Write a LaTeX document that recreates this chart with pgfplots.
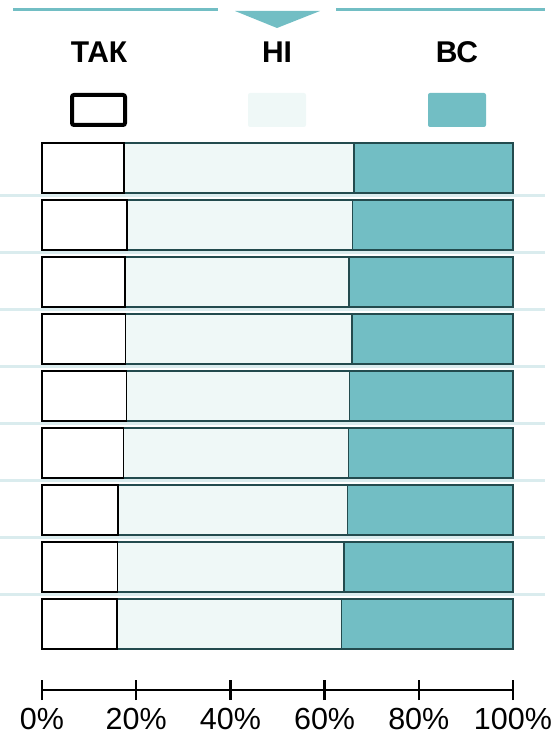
\documentclass[border=0pt]{standalone}
\usepackage{pgfplots}
\pgfplotsset{compat=1.18}
\usepackage{pgfplotstable}
\usepackage{fontspec}
\setmainfont{Liberation Sans}
\definecolor{vs}{RGB}{114,190,196}
\definecolor{ni}{RGB}{239,248,247}
\definecolor{edge}{RGB}{35,75,78}
\definecolor{sep}{RGB}{218,236,238}

\pgfplotstableread{
y tak ni vs
9 17.4 48.8 33.8
8 18.0 47.9 34.1
7 17.6 47.6 34.8
6 17.7 48.1 34.2
5 17.9 47.4 34.7
4 17.3 47.8 34.9
3 16.1 48.8 35.1
2 16.0 48.1 35.9
1 15.9 47.7 36.4
}\data

\begin{document}
\begin{tikzpicture}[x=1pt,y=1pt]
\useasboundingbox (0,0) rectangle (560,740);
\begin{axis}[at={(42pt,50pt)}, anchor=south west, scale only axis,
  width=471pt, height=550.5pt, xmin=0, xmax=100, ymin=-0.158, ymax=9.5,
  xbar stacked, bar width=50pt,
  axis y line=none, axis x line*=bottom,
  x axis line style={line width=2.5pt,-},
  xtick={0,20,...,100}, ytick=\empty,
  major tick length=20pt, tick align=center,
  tick style={black, line width=2.5pt},
  xticklabel={\pgfmathprintnumber{\tick}\%},
  ticklabel style={font=\fontsize{30.5}{30.5}\selectfont},
  xticklabel style={yshift=-5pt},
  /pgf/number format/assume math mode=true,
  clip=false]
\draw[sep, line width=3pt] (axis cs:-8.92,1.52) -- (axis cs:106.8,1.52);
\draw[sep, line width=3pt] (axis cs:-8.92,2.52) -- (axis cs:106.8,2.52);
\draw[sep, line width=3pt] (axis cs:-8.92,3.52) -- (axis cs:106.8,3.52);
\draw[sep, line width=3pt] (axis cs:-8.92,4.52) -- (axis cs:106.8,4.52);
\draw[sep, line width=3pt] (axis cs:-8.92,5.52) -- (axis cs:106.8,5.52);
\draw[sep, line width=3pt] (axis cs:-8.92,6.52) -- (axis cs:106.8,6.52);
\draw[sep, line width=3pt] (axis cs:-8.92,7.52) -- (axis cs:106.8,7.52);
\draw[sep, line width=3pt] (axis cs:-8.92,8.52) -- (axis cs:106.8,8.52);
\addplot[fill=white, draw=black, line width=1.5pt] table[x=tak,y=y]{\data};
\addplot[fill=ni, draw=edge, line width=1.5pt] table[x=ni,y=y]{\data};
\addplot[fill=vs, draw=edge, line width=1.5pt] table[x=vs,y=y]{\data};
\end{axis}
\draw[vs, line width=3pt] (13,730) -- (218,730);
\draw[vs, line width=3pt] (336,730) -- (545,730);
\fill[vs] (235,729) -- (320,729) -- (277,712) -- cycle;
\node[font=\fontsize{30}{30}\selectfont\bfseries, anchor=base, inner sep=0] at (99,677) {ТАК};
\node[font=\fontsize{30}{30}\selectfont\bfseries, anchor=base, inner sep=0] at (277,677) {НІ};
\node[font=\fontsize{30}{30}\selectfont\bfseries, anchor=base, inner sep=0] at (457,677) {ВС};
\draw[black, line width=4pt, rounded corners=2pt] (72,645) rectangle (125,615);
\fill[ni, rounded corners=2pt] (248,647) rectangle (306,613);
\fill[vs, rounded corners=2pt] (428,647) rectangle (486,613);
\end{tikzpicture}
\end{document}
